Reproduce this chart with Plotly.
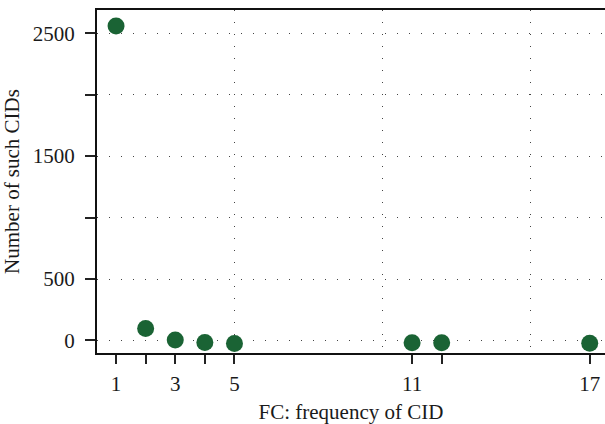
import plotly.graph_objects as go

fc = [1, 2, 3, 4, 5, 11, 12, 17]
counts = [2558, 98, 3, -16, -24, -19, -19, -22]

x_tickvals = [1, 2, 3, 4, 5, 11, 12, 17]
x_ticktext = ["1", "", "3", "", "5", "11", "", "17"]
x_gridvals = [5, 10, 15]
y_tickvals = [0, 500, 1000, 1500, 2000, 2500]
y_ticktext = ["0", "500", "", "1500", "", "2500"]

FONT = "Liberation Serif"
DOT = "1px,11px"

fig = go.Figure()
fig.add_trace(go.Scatter(
    x=fc, y=counts, mode="markers",
    marker=dict(size=17, color="#1a6334", line=dict(width=0)),
    showlegend=False, cliponaxis=False,
))

fig.update_layout(
    width=605, height=424,
    margin=dict(l=97, r=0, t=10, b=71),
    paper_bgcolor="white", plot_bgcolor="white",
    font=dict(family=FONT, size=21, color="#1a1a1a"),
    xaxis=dict(
        range=[0.357, 17.516],
        tickmode="array", tickvals=x_tickvals, ticktext=x_ticktext,
        ticks="outside", ticklen=9, tickwidth=1.5, tickcolor="#222",
        ticklabelstandoff=2,
        tickfont=dict(size=21),
        showline=True, linecolor="#111", linewidth=2, mirror=True,
        showgrid=False, zeroline=False,
        minor=dict(tickmode="array", tickvals=x_gridvals, ticks="",
                   showgrid=True, gridcolor="#444", gridwidth=1, griddash=DOT),
        title=dict(text="FC: frequency of CID", standoff=11,
                   font=dict(family=FONT, size=21)),
    ),
    yaxis=dict(
        range=[-102, 2689],
        tickmode="array", tickvals=y_tickvals, ticktext=y_ticktext,
        ticks="outside", ticklen=10, tickwidth=1.5, tickcolor="#222",
        ticklabelstandoff=6,
        tickfont=dict(size=21),
        showline=True, linecolor="#111", linewidth=2,
        showgrid=True, gridcolor="#444", gridwidth=1, griddash=DOT,
        zeroline=False,
        title=dict(text="Number of such CIDs", standoff=8,
                   font=dict(family=FONT, size=21)),
    ),
)

fig.write_html("out.html")
